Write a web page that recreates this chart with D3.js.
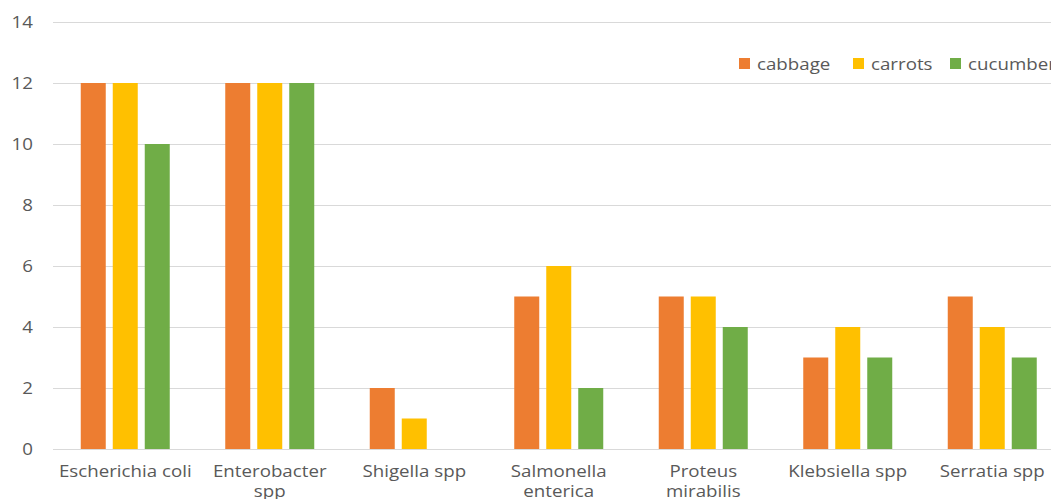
<!DOCTYPE html>
<html>
<head>
<meta charset="utf-8">
<script src="https://cdn.jsdelivr.net/npm/d3@7"></script>
<style>
  html, body { margin: 0; padding: 0; background: #fff; overflow: hidden; }
  text { font-family: "Open Sans", sans-serif; fill: #595959; font-size: 16px; }
</style>
</head>
<body>
<div id="chart"></div>
<script>
// Bacteria isolated per vegetable

const categories = ["Escherichia coli", "Enterobacter spp", "Shigella spp", "Salmonella enterica",
    "Proteus mirabilis", "Klebsiella spp", "Serratia spp"];
// how each category label wraps under the axis
const tickLabels = [["Escherichia coli"], ["Enterobacter", "spp"], ["Shigella spp"], ["Salmonella", "enterica"],
    ["Proteus", "mirabilis"], ["Klebsiella spp"], ["Serratia spp"]];
const seriesNames = ["cabbage", "carrots", "cucumber"];
const cabbage = [12, 12, 2, 5, 5, 3, 5];
const carrots = [12, 12, 1, 6, 5, 4, 4];
const cucumber = [10, 12, 0, 2, 4, 3, 3];
const yTicks = [0, 2, 4, 6, 8, 10, 12, 14];

const colors = ["#ED7D31", "#FFC000", "#70AD47"];
const series = [cabbage, carrots, cucumber];

const width = 1051, height = 499;
const stretch = 1.17; // text in the original is a bit wide
const svg = d3.select("#chart").append("svg")
    .attr("width", width)
    .attr("height", height);

// plot area runs past the right edge, as in the original
const x0 = d3.scaleBand().domain(categories).range([53, 1064.5]);
const groupW = 89;
const x1 = d3.scaleBand().domain(seriesNames).range([0, groupW]).paddingInner(7 / 32);
const y = d3.scaleLinear().domain([0, 14]).range([449, 22]);
const groupOffset = (x0.bandwidth() - groupW) / 2;

// gridlines
svg.append("g")
    .selectAll("line")
    .data(yTicks)
    .join("line")
    .attr("x1", 53)
    .attr("x2", width)
    .attr("y1", d => Math.round(y(d)) + 0.5)
    .attr("y2", d => Math.round(y(d)) + 0.5)
    .attr("stroke", "#d9d9d9")
    .attr("stroke-width", 1);

// y labels
svg.append("g")
    .selectAll("text")
    .data(yTicks)
    .join("text")
    .attr("transform", d => `translate(33,${y(d)}) scale(${stretch},1)`)
    .attr("dy", "0.35em")
    .attr("text-anchor", "end")
    .text(d => d);

// bars
series.forEach((vals, si) => {
    svg.append("g")
        .attr("fill", colors[si])
        .selectAll("rect")
        .data(vals.map((v, i) => ({ cat: categories[i], v: v })))
        .join("rect")
        .attr("x", d => x0(d.cat) + groupOffset + x1(seriesNames[si]))
        .attr("y", d => y(d.v))
        .attr("width", x1.bandwidth())
        .attr("height", d => y(0) - y(d.v));
});

// category labels
const cat = svg.append("g")
    .selectAll("text")
    .data(categories)
    .join("text")
    .attr("transform", d => `translate(${x0(d) + x0.bandwidth() / 2},477) scale(${stretch},1)`)
    .attr("text-anchor", "middle");

cat.each(function (d, i) {
    d3.select(this).selectAll("tspan")
        .data(tickLabels[i])
        .join("tspan")
        .attr("x", 0)
        .attr("dy", (t, j) => j === 0 ? 0 : 20)
        .text(t => t);
});

// legend
const legendX = [739, 853, 950];
const legend = svg.append("g")
    .selectAll("g")
    .data(seriesNames)
    .join("g")
    .attr("transform", (d, i) => `translate(${legendX[i]},58)`);

legend.append("rect")
    .attr("width", 11)
    .attr("height", 11)
    .attr("fill", (d, i) => colors[i]);

legend.append("text")
    .attr("transform", `translate(18,6) scale(${stretch},1)`)
    .attr("dy", "0.35em")
    .text(d => d);
</script>
</body>
</html>
